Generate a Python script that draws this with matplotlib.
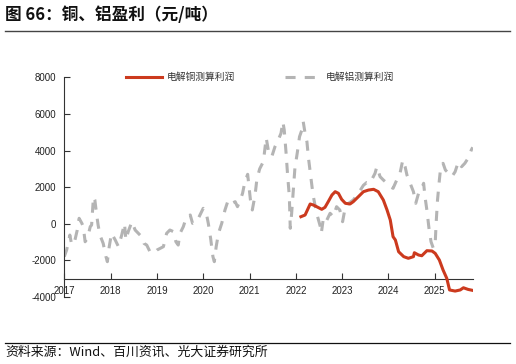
import matplotlib.pyplot as plt
from matplotlib.lines import Line2D

plt.rcParams['font.family'] = ['Liberation Sans', 'Noto Sans CJK SC']
plt.rcParams['axes.unicode_minus'] = False

# 电解铝测算利润 (year as decimal, 元/吨)
al_x = [2017.00, 2017.05, 2017.12, 2017.16, 2017.23, 2017.28, 2017.32, 2017.38, 2017.41, 2017.45,
        2017.50, 2017.56, 2017.59, 2017.63, 2017.66, 2017.70, 2017.73, 2017.77, 2017.84, 2017.90,
        2017.93, 2017.97, 2018.02, 2018.10, 2018.17, 2018.24, 2018.30, 2018.33, 2018.38, 2018.46,
        2018.53, 2018.60, 2018.67, 2018.72, 2018.78, 2018.85, 2018.92, 2019.00, 2019.07, 2019.14,
        2019.21, 2019.28, 2019.36, 2019.41, 2019.46, 2019.50, 2019.57, 2019.64, 2019.72, 2019.77,
        2019.86, 2019.93, 2020.00, 2020.06, 2020.11, 2020.16, 2020.21, 2020.24, 2020.28, 2020.33,
        2020.40, 2020.47, 2020.54, 2020.62, 2020.69, 2020.74, 2020.80, 2020.85, 2020.90, 2020.96,
        2021.02, 2021.06, 2021.12, 2021.16, 2021.22, 2021.30, 2021.36, 2021.41, 2021.48, 2021.55,
        2021.62, 2021.68, 2021.72, 2021.75, 2021.79, 2021.82, 2021.86, 2021.88, 2021.91, 2021.95,
        2021.98, 2022.03, 2022.08, 2022.13, 2022.16, 2022.20, 2022.24, 2022.27, 2022.31, 2022.35,
        2022.38, 2022.42, 2022.47, 2022.53, 2022.55, 2022.60, 2022.67, 2022.74, 2022.81, 2022.88,
        2022.95, 2023.01, 2023.07, 2023.14, 2023.24, 2023.35, 2023.46, 2023.53, 2023.60, 2023.71,
        2023.75, 2023.82, 2023.89, 2023.97, 2024.04, 2024.10, 2024.18, 2024.25, 2024.31, 2024.36,
        2024.40, 2024.47, 2024.54, 2024.59, 2024.65, 2024.72, 2024.76, 2024.79, 2024.83, 2024.88,
        2024.92, 2024.97, 2025.01, 2025.03, 2025.06, 2025.10, 2025.13, 2025.18, 2025.23, 2025.30,
        2025.37, 2025.44, 2025.51, 2025.58, 2025.65, 2025.72, 2025.79, 2025.82]
al_y = [-1800, -1440, -620, -1160, -890, -345, 295, 20, -165, -985,
        -800, -165, -70, 1475, 1295, 475, -70, -620, -1075, -1800,
        -2075, -1255, -525, -890, -1255, -620, 20, -890, -435, 110,
        -345, -525, -710, -1075, -1165, -1530, -1620, -1440, -1345, -1255,
        -525, -345, -435, -985, -1165, -525, -165, 385, 475, 20,
        110, 475, 840, 655, 20, -800, -1800, -2075, -1255, -525,
        20, 750, 1295, 1115, 1203, 930, 1295, 1660, 2300, 2700,
        1295, 750, 1568, 2450, 3000, 3400, 4700, 3950, 3660, 4210,
        4575, 4940, 5575, 5120, 3850, 2750, 1475, -250, 570, 1935,
        3030, 3850, 4755, 5120, 5575, 4940, 4480, 3660, 2840, 2020,
        1475, 930, 385, -165, -525, 385, 200, 570, 385, 930,
        750, 110, 930, 1115, 1295, 1660, 2100, 2250, 2210, 2750,
        3115, 2570, 2390, 2210, 2020, 1935, 2390, 2750, 3480, 3115,
        2660, 2210, 1750, 1115, 1660, 1935, 2210, 1475, 750, -345,
        -985, -1345, -1075, 20, 1295, 2390, 3115, 3300, 2935, 2750,
        2570, 2840, 3390, 3115, 3300, 3575, 4030, 4175]

# 电解铜测算利润
cu_x = [2022.11, 2022.20, 2022.31, 2022.38, 2022.45, 2022.56, 2022.63, 2022.70, 2022.78, 2022.85,
        2022.92, 2022.99, 2023.07, 2023.17, 2023.24, 2023.35, 2023.46, 2023.57, 2023.68, 2023.78,
        2023.89, 2023.97, 2024.04, 2024.10, 2024.15, 2024.22, 2024.33, 2024.43, 2024.54, 2024.56,
        2024.65, 2024.72, 2024.83, 2024.94, 2025.01, 2025.10, 2025.18, 2025.26, 2025.32, 2025.44,
        2025.55, 2025.62, 2025.72, 2025.85]
cu_y = [383, 475, 1077, 1020, 930, 787, 896, 1203, 1568, 1750,
        1660, 1330, 1115, 1077, 1203, 1475, 1750, 1840, 1880, 1750,
        1295, 750, 200, -710, -890, -1530, -1800, -1890, -1800, -1585,
        -1710, -1750, -1475, -1490, -1620, -1985, -2530, -2985, -3620, -3680,
        -3620, -3500, -3590, -3660]

years = [2017, 2018, 2019, 2020, 2021, 2022, 2023, 2024, 2025]
yticks = [-4000, -2000, 0, 2000, 4000, 6000, 8000]

fig = plt.figure(figsize=(5.16, 3.64), dpi=100)
ax = fig.add_axes([0.1246, 0.1843, 0.7915, 0.6033])

red = '#CC3A1E'
gray = '#B4B4B4'
ax.plot(cu_x, cu_y, color=red, lw=2.2, label='电解铜测算利润', zorder=3)
ax.plot(al_x, al_y, color=gray, lw=2.2, dashes=(3.3, 3.0), label='电解铝测算利润', zorder=2)

ax.set_xlim(2017, 2025.82)
ax.set_ylim(-4000, 8000)
ax.set_xticks(years)
ax.set_xticklabels([str(y) for y in years])
ax.set_yticks(yticks)
ax.set_yticklabels([str(v) for v in yticks])

ax.spines['top'].set_visible(False)
ax.spines['right'].set_visible(False)
ax.spines['bottom'].set_position(('data', -3000))
ax.spines['left'].set_color('#333333')
ax.spines['bottom'].set_color('#333333')
ax.tick_params(axis='both', direction='in', length=4, width=0.8, color='#333333',
               labelsize=7, labelcolor='#222222')
ax.tick_params(axis='x', pad=5)
ax.tick_params(axis='y', pad=6)

leg = ax.legend(loc='center left', bbox_to_anchor=(126 / 516, 1 - 77.3 / 364),
                bbox_transform=fig.transFigure, ncol=2, frameon=False, fontsize=7,
                handlelength=3.7, handletextpad=0.45, columnspacing=5.2,
                borderpad=0, borderaxespad=0)
for t in leg.get_texts():
    t.set_color('#333333')

fig.text(5 / 516, 1 - 15 / 364, '图 66：铜、铝盈利（元/吨）', fontsize=12, fontweight='bold',
         family=['Noto Sans CJK SC'], va='center', ha='left', color='#111111')
fig.add_artist(Line2D([5 / 516, 510 / 516], [1 - 31.3 / 364, 1 - 31.3 / 364],
                      color='#444444', lw=1))
fig.add_artist(Line2D([5 / 516, 510 / 516], [1 - 343.3 / 364, 1 - 343.3 / 364],
                      color='#111111', lw=0.9))
fig.text(5 / 516, 1 - 352.5 / 364, '资料来源：Wind、百川资讯、光大证券研究所', fontsize=9.3,
         family=['Noto Sans CJK SC'], va='center', ha='left', color='#111111')

fig.savefig('out.png', dpi=100)
